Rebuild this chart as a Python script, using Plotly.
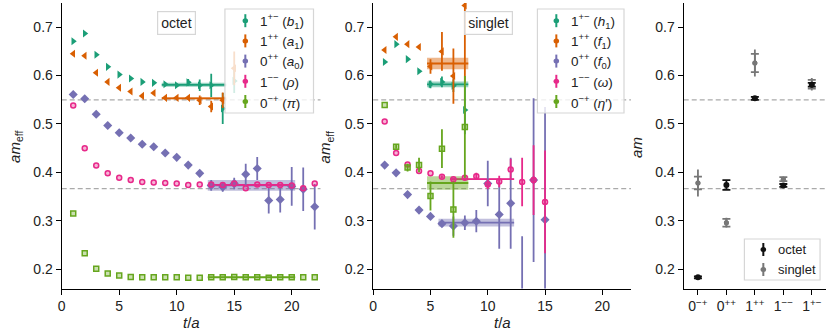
import plotly.graph_objects as go

W, H = 830, 332

# Dark2 palette
GREEN = "#1b9e77"
ORANGE = "#d95f02"
PURPLE = "#7570b3"
PINK = "#e7298a"
LIME = "#66a61e"
# no serif face is available in the renderer, Liberation Sans is the narrowest stand-in
FONT = "'Liberation Sans', Arial, sans-serif"

# ── octet effective masses ────────────────────────────────────────────────────
oct_b1_t = list(range(1, 16))
oct_b1 = [0.671, 0.687, 0.643, 0.618, 0.602, 0.594, 0.587, 0.585, 0.582, 0.580,
          0.586, 0.580, 0.580, 0.532, 0.589]
oct_b1_err = [0, 0, 0, 0, 0, 0, 0, 0, 0.003, 0.003, 0.007, 0.012, 0.024, 0.032, 0.025]

oct_a1_t = list(range(1, 16))
oct_a1 = [0.645, 0.641, 0.606, 0.587, 0.575, 0.567, 0.558, 0.564, 0.554, 0.554,
          0.554, 0.549, 0.536, 0.549, 0.615]
oct_a1_err = [0, 0, 0, 0, 0, 0, 0, 0, 0.002, 0.002, 0.003, 0.01, 0.012, 0.016, 0.035]

oct_a0_t = list(range(1, 23))
oct_a0 = [0.561, 0.552, 0.520, 0.497, 0.482, 0.471, 0.458, 0.453, 0.440, 0.431, 0.415,
          0.398, 0.373, 0.370, 0.377, 0.396, 0.408, 0.342, 0.344, 0.371, 0.365, 0.329]
oct_a0_err = [0, 0, 0, 0, 0, 0, 0, 0, 0, 0, 0.004, 0.006, 0.011, 0.010, 0.012, 0.022,
              0.024, 0.027, 0.027, 0.040, 0.045, 0.047]

oct_rho_t = list(range(1, 23))
oct_rho = [0.538, 0.450, 0.414, 0.398, 0.389, 0.384, 0.380, 0.379, 0.378, 0.377, 0.374,
           0.375, 0.375, 0.374, 0.377, 0.367, 0.375, 0.374, 0.374, 0.373, 0.367, 0.377]
oct_rho_err = [0] * 22

oct_pi_t = list(range(1, 23))
oct_pi = [0.315, 0.233, 0.201, 0.191, 0.187, 0.184, 0.183, 0.183, 0.183, 0.183, 0.182,
          0.182, 0.183, 0.183, 0.184, 0.183, 0.183, 0.182, 0.183, 0.183, 0.183, 0.183]
oct_pi_err = [0] * 22

# octet fits: b1, a1, a0, rho, pi
oct_fit_tmin = [9, 9, 13, 13, 13]
oct_fit_tmax = [14, 14, 20, 20, 20]
oct_fit_val = [0.581, 0.553, 0.373, 0.374, 0.1833]
oct_fit_err = [0.004, 0.002, 0.011, 0.002, 0.001]

# ── singlet effective masses ──────────────────────────────────────────────────
sng_h1_t = list(range(1, 9))
sng_h1 = [0.628, 0.665, 0.634, 0.609, 0.582, 0.587, 0.579, 0.529]
sng_h1_err = [0, 0, 0, 0, 0.008, 0.011, 0.013, 0.05]

sng_f1_t = list(range(1, 9))
sng_f1 = [0.653, 0.680, 0.665, 0.659, 0.619, 0.650, 0.599, 0.745]
sng_f1_err = [0, 0, 0, 0.004, 0.015, 0.04, 0.057, 0.16]

sng_f0_t = list(range(1, 16))
sng_f0 = [0.415, 0.399, 0.354, 0.322, 0.309, 0.294, 0.289, 0.296, 0.299, 0.377,
          0.313, 0.336, 0.100, 0.384, 0.302]
sng_f0_err = [0, 0, 0, 0, 0.005, 0.006, 0.02, 0.015, 0.023, 0.047, 0.071, 0.094,
              0.168, 0.169, 0.233]

sng_om_t = list(range(1, 16))
sng_om = [0.505, 0.440, 0.416, 0.403, 0.398, 0.391, 0.386, 0.389, 0.392, 0.375,
          0.381, 0.406, 0.380, 0.384, 0.339]
sng_om_err = [0, 0, 0, 0, 0, 0.003, 0.003, 0.004, 0.007, 0.010, 0.012, 0.022,
              0.050, 0.072, 0.106]

sng_eta_t = list(range(1, 9))
sng_eta = [0.539, 0.453, 0.410, 0.415, 0.351, 0.449, 0.323, 0.494]
sng_eta_err = [0, 0.004, 0.008, 0.015, 0.03, 0.04, 0.058, 0.105]

# singlet fits: h1, f1, f0, omega, eta'
sng_fit_tmin = [5, 5, 6, 7, 5]
sng_fit_tmax = [8, 8, 12, 12, 8]
sng_fit_val = [0.582, 0.625, 0.296, 0.386, 0.378]
sng_fit_err = [0.006, 0.012, 0.008, 0.002, 0.014]

# ── summary panel ─────────────────────────────────────────────────────────────
sum_labels = ["0<sup>−+</sup>", "0<sup>++</sup>", "1<sup>++</sup>",
              "1<sup>−−</sup>", "1<sup>+−</sup>"]
sum_oct = [0.183, 0.374, 0.553, 0.373, 0.581]
sum_oct_err = [0.002, 0.010, 0.003, 0.003, 0.004]
sum_sng = [0.378, 0.296, 0.626, 0.386, 0.582]
sum_sng_err = [0.013, 0.008, 0.019, 0.004, 0.009]
sum_sng_sys = [0.028, 0.010, 0.028, 0.005, 0.013]

m_pi = 0.1833
thresholds = [2 * m_pi, 3 * m_pi]


def px(x):
    return x / W


def py(y):
    return 1 - y / H


def rgba(hexcol, a):
    h = hexcol.lstrip("#")
    r, g, b = int(h[0:2], 16), int(h[2:4], 16), int(h[4:6], 16)
    return f"rgba({r},{g},{b},{a})"


fig = go.Figure()


def add_meff(t, y, err, color, symbol, size, hollow, xa, ya):
    fill = rgba(color, 0.35) if hollow else color
    fig.add_trace(go.Scatter(
        x=t, y=y, mode="markers", xaxis=xa, yaxis=ya, showlegend=False,
        marker=dict(symbol=symbol, size=size, color=fill,
                    line=dict(color=color, width=1.5 if hollow else 0)),
        error_y=dict(type="data", array=err, color=color, thickness=1.8, width=0),
    ))


def add_fit(tmin, tmax, val, err, color, xa, ya):
    x0, x1 = tmin - 0.3, tmax + 0.3
    fig.add_trace(go.Scatter(
        x=[x0, x1, x1, x0, x0], y=[val - err, val - err, val + err, val + err, val - err],
        mode="lines", fill="toself", fillcolor=rgba(color, 0.45), line=dict(width=0),
        xaxis=xa, yaxis=ya, showlegend=False, hoverinfo="skip",
    ))
    fig.add_trace(go.Scatter(
        x=[x0, x1], y=[val, val], mode="lines", line=dict(color=color, width=1.8),
        xaxis=xa, yaxis=ya, showlegend=False, hoverinfo="skip",
    ))


oct_cols = [GREEN, ORANGE, PURPLE, PINK, LIME]
for i in range(5):
    add_fit(oct_fit_tmin[i], oct_fit_tmax[i], oct_fit_val[i], oct_fit_err[i], oct_cols[i], "x", "y")
    add_fit(sng_fit_tmin[i], sng_fit_tmax[i], sng_fit_val[i], sng_fit_err[i], oct_cols[i], "x2", "y2")

add_meff(oct_b1_t, oct_b1, oct_b1_err, GREEN, "triangle-right", 7, False, "x", "y")
add_meff(oct_a1_t, oct_a1, oct_a1_err, ORANGE, "triangle-left", 7, False, "x", "y")
add_meff(oct_a0_t, oct_a0, oct_a0_err, PURPLE, "diamond", 7, False, "x", "y")
add_meff(oct_rho_t, oct_rho, oct_rho_err, PINK, "circle", 5, True, "x", "y")
add_meff(oct_pi_t, oct_pi, oct_pi_err, LIME, "square", 5, True, "x", "y")

add_meff(sng_h1_t, sng_h1, sng_h1_err, GREEN, "triangle-right", 7, False, "x2", "y2")
add_meff(sng_f1_t, sng_f1, sng_f1_err, ORANGE, "triangle-left", 7, False, "x2", "y2")
add_meff(sng_f0_t, sng_f0, sng_f0_err, PURPLE, "diamond", 7, False, "x2", "y2")
add_meff(sng_om_t, sng_om, sng_om_err, PINK, "circle", 5, True, "x2", "y2")
add_meff(sng_eta_t, sng_eta, sng_eta_err, LIME, "square", 5, True, "x2", "y2")

# summary panel
cats = list(range(len(sum_labels)))
fig.add_trace(go.Scatter(
    x=cats, y=sum_sng, mode="markers", xaxis="x3", yaxis="y3", showlegend=False,
    marker=dict(size=5, color="#777777"),
    error_y=dict(type="data", array=sum_sng_sys, color="#777777", thickness=1.8, width=0),
))
fig.add_trace(go.Scatter(
    x=cats, y=sum_sng, mode="markers", xaxis="x3", yaxis="y3", showlegend=False,
    marker=dict(size=5, color="#777777"),
    error_y=dict(type="data", array=sum_sng_err, color="#777777", thickness=1.8, width=4),
))
fig.add_trace(go.Scatter(
    x=cats, y=sum_oct, mode="markers", xaxis="x3", yaxis="y3", showlegend=False,
    marker=dict(size=6, color="#111111"),
    error_y=dict(type="data", array=sum_oct_err, color="#111111", thickness=1.8, width=4),
))

# threshold lines
for xa, ya in [("x", "y"), ("x2", "y2"), ("x3", "y3")]:
    for thr in thresholds:
        fig.add_shape(type="line", xref=f"{xa} domain", yref=ya, x0=0, x1=1, y0=thr, y1=thr,
                      line=dict(color="#aaaaaa", width=1.3, dash="5px,3px"), layer="below")


def note(x, y, text, size, **kw):
    fig.add_annotation(x=px(x), y=py(y), xref="paper", yref="paper", text=text,
                       showarrow=False, xanchor=kw.pop("xanchor", "center"),
                       yanchor="middle", font=dict(family=FONT, size=size, color="#222"), **kw)


# manual legends (matplotlib style errorbar handles)
def legend(x0, x1, y0, y1, mx, tx, ys, entries, size=13.5):
    fig.add_shape(type="rect", xref="paper", yref="paper",
                  x0=px(x0), x1=px(x1), y0=py(y1), y1=py(y0),
                  fillcolor="rgba(255,255,255,0.8)", line=dict(color="#d6d6d6", width=1.2),
                  layer="above")
    for (label, color), y in zip(entries, ys):
        fig.add_shape(type="line", xref="paper", yref="paper",
                      x0=px(mx), x1=px(mx), y0=py(y + 6.5), y1=py(y - 6.5),
                      line=dict(color=color, width=2), layer="above")
        fig.add_shape(type="circle", xref="paper", yref="paper",
                      x0=px(mx - 2.8), x1=px(mx + 2.8), y0=py(y + 2.5), y1=py(y - 2.5),
                      fillcolor=color, line=dict(color=color, width=0), layer="above")
        note(tx, y, label, size, xanchor="left")


leg_ys = [20.7, 40.9, 61.1, 81.3, 101.5]
legend(222, 311, 9, 113, 242.5, 255, leg_ys, [
    ("1<sup>+−</sup> (<i>b</i><sub>1</sub>)", GREEN),
    ("1<sup>++</sup> (<i>a</i><sub>1</sub>)", ORANGE),
    ("0<sup>++</sup> (<i>a</i><sub>0</sub>)", PURPLE),
    ("1<sup>−−</sup> (<i>ρ</i>)", PINK),
    ("0<sup>−+</sup> (<i>π</i>)", LIME),
])
legend(536, 623, 9, 113, 555, 567.5, leg_ys, [
    ("1<sup>+−</sup> (<i>h</i><sub>1</sub>)", GREEN),
    ("1<sup>++</sup> (<i>f</i><sub>1</sub>)", ORANGE),
    ("0<sup>++</sup> (<i>f</i><sub>0</sub>)", PURPLE),
    ("1<sup>−−</sup> (<i>ω</i>)", PINK),
    ("0<sup>−+</sup> (<i>η</i>′)", LIME),
])
legend(744, 820, 239, 280, 763, 776, [249.5, 269.5], [
    ("octet", "#111111"),
    ("singlet", "#777777"),
], size=13)

# panel tags
for label, cx in [("octet", 173), ("singlet", 486.5)]:
    note(cx, 23, label, 14, bgcolor="rgba(255,255,255,0.8)", bordercolor="#d6d6d6",
         borderwidth=1.2, borderpad=3)

# axis titles
for cx, txt in [(12, "<i>am</i><sub>eff</sub>"), (324, "<i>am</i><sub>eff</sub>"),
                (636, "<i>am</i>")]:
    note(cx, 147, txt, 15, textangle=-90)
for cx in [188, 500.5]:
    note(cx, 322, "<i>t</i>/<i>a</i>", 15)

axis_style = dict(showline=True, linecolor="black", linewidth=1.2, ticks="outside",
                  ticklen=5, tickwidth=1.2, tickcolor="black", showgrid=False,
                  zeroline=False, tickfont=dict(family=FONT, size=14, color="#222"))
ydom = [py(288.5), py(3)]
yaxis_common = dict(axis_style, range=[0.16, 0.75], tickvals=[0.2, 0.3, 0.4, 0.5, 0.6, 0.7],
                    domain=ydom)
tx_common = dict(axis_style, range=[0, 22.5], tickvals=[0, 5, 10, 15, 20])

fig.update_layout(
    width=W, height=H, autosize=False,
    margin=dict(l=0, r=0, t=0, b=0),
    paper_bgcolor="white", plot_bgcolor="white",
    font=dict(family=FONT, color="#222"),
    xaxis=dict(tx_common, domain=[px(58), px(318)], anchor="y"),
    yaxis=dict(yaxis_common, anchor="x"),
    xaxis2=dict(tx_common, domain=[px(371), px(630)], anchor="y2"),
    yaxis2=dict(yaxis_common, anchor="x2"),
    xaxis3=dict(axis_style, domain=[px(683), px(826)], anchor="y3", range=[-0.5, 4.5],
                tickvals=cats, ticktext=sum_labels),
    yaxis3=dict(yaxis_common, anchor="x3"),
)

# the page body has a default 8px margin; drop it so the figure sits at (0, 0)
fig.write_html("out.html", config={"displayModeBar": False},
               post_script="document.body.style.margin='0';document.body.style.overflow='hidden';")
